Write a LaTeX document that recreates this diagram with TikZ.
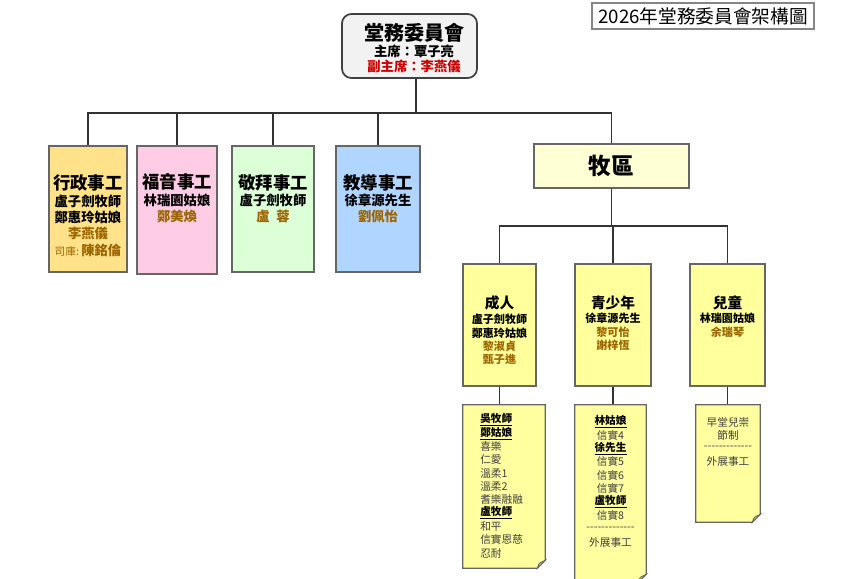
\documentclass[tikz,border=0pt]{standalone}
\usepackage{fontspec}
\setmainfont{Noto Sans CJK TC}
\usetikzlibrary{fit}
\definecolor{wirec}{HTML}{333333}
\definecolor{edgec}{HTML}{666666}
\definecolor{mainfill}{HTML}{F2F2F2}
\definecolor{xzfill}{HTML}{FFE28A}
\definecolor{fyfill}{HTML}{FFCCE6}
\definecolor{jbfill}{HTML}{DCFFD8}
\definecolor{jdfill}{HTML}{B0D6FF}
\definecolor{mqfill}{HTML}{FFFFD5}
\definecolor{grpfill}{HTML}{FFFF9C}
\definecolor{notefill}{HTML}{FFFFA0}
\definecolor{foldc}{HTML}{D8D27A}
\definecolor{brownc}{HTML}{9C6500}
\definecolor{redc}{HTML}{CC0000}
\definecolor{notetxt}{HTML}{404040}
\newcommand\myfs[1]{\fontsize{#1}{#1}\selectfont}
\newcommand\dashrow{-{}-{}-{}-{}-{}-{}-{}-{}-{}-{}-{}-{}-}
\tikzset{
  wire/.style={draw=wirec, line width=0.8pt},
  panel/.style={draw=edgec, line width=0.9pt, inner sep=0pt},
  frame/.style={inner sep=0pt},
  txt/.style={inner sep=0pt, text=black},
  hd/.style={txt, font=\myfs{13}\bfseries},
  sub/.style={txt, font=\myfs{10}\bfseries},
  subb/.style={txt, font=\myfs{10}\bfseries, text=brownc},
  ghd/.style={txt, font=\myfs{11}\bfseries},
  gsub/.style={txt, font=\myfs{8.3}\bfseries},
  gsubb/.style={txt, font=\myfs{8.3}\bfseries, text=brownc},
  nt/.style={txt, font=\myfs{8}, text=notetxt},
  nth/.style={txt, font=\myfs{8}\bfseries, text=black},
}
\newcommand\notepaper[1]{%
  \draw[draw=edgec, line width=0.8pt, fill=notefill]
    (#1.north west) -- (#1.north east) -- ([yshift=6pt]#1.south east)
    -- ([xshift=-6pt]#1.south east) -- (#1.south west) -- cycle;
  \draw[draw=edgec, line width=0.6pt, fill=foldc]
    ([yshift=6pt]#1.south east) -- ([xshift=-6pt]#1.south east)
    .. controls ([xshift=-5pt,yshift=3pt]#1.south east) .. ([xshift=-4pt,yshift=4pt]#1.south east) -- cycle;
}
\begin{document}
\begin{tikzpicture}[x=0.75pt,y=-0.75pt]
\clip (0,0) rectangle (858,579);
\fill[white] (0,0) rectangle (858,579);

% top-right title
\node[panel, draw=edgec!80, fit={(592,3) (814,29)}] (ttl) {};
\node[txt, font=\myfs{14}] (ttltxt) at (703,16) {2026年堂務委員會架構圖};

% main committee
\node[panel, draw=black!75, line width=1.3pt, fill=mainfill, rounded corners=7pt, fit={(342,14) (477,78)}] (main) {};
\node[txt, font=\myfs{15}\bfseries] (mainA) at (414,33) {堂務委員會};
\node[txt, font=\myfs{10}\bfseries] (mainB) at (414,51) {主席：覃子亮};
\node[txt, font=\myfs{10}\bfseries, text=redc] (mainC) at (414,66) {副主席：李燕儀};

% level 1 boxes
\node[panel, fill=xzfill, fit={(49,146) (127,272)}] (xz) {};
\node[panel, fill=fyfill, fit={(137,146) (217,274)}] (fy) {};
\node[panel, fill=jbfill, fit={(232,146) (314,272)}] (jb) {};
\node[panel, fill=jdfill, fit={(336,146) (420,272)}] (jd) {};
\node[panel, fill=mqfill, fit={(534,144) (689,188)}] (mq) {};

\coordinate (bar1) at (416,113);
\draw[wire] (main.south -| bar1) -- (bar1);
\draw[wire] (xz.north) -- (xz.north |- bar1) -- (mq.north |- bar1) -- (mq.north);
\draw[wire] (fy.north) -- (fy.north |- bar1);
\draw[wire] (jb.north) -- (jb.north |- bar1);
\draw[wire] (jd.north) -- (jd.north |- bar1);

% 行政事工
\node[hd] (xz1) at (88,183) {行政事工};
\node[sub] (xz2) at (88,201) {盧子劍牧師};
\node[sub] (xz3) at (88,217) {鄭惠玲姑娘};
\node[subb] (xz4) at (88,233) {李燕儀};
\node[txt, text=brownc] (xz5) at (88,250) {{\myfs{8}司庫:}\,{\myfs{10}\bfseries 陳銘倫}};

% 福音事工
\node[hd] (fy1) at (177,182) {福音事工};
\node[sub] (fy2) at (177,200) {林瑞園姑娘};
\node[subb] (fy3) at (177,216) {鄭美煥};

% 敬拜事工
\node[hd] (jb1) at (273,183) {敬拜事工};
\node[sub] (jb2) at (273,200) {盧子劍牧師};
\node[subb] (jb3) at (273,216) {盧\enspace 蓉};

% 教導事工
\node[hd] (jd1) at (378,183) {教導事工};
\node[sub] (jd2) at (378,200) {徐章源先生};
\node[subb] (jd3) at (378,216) {劉佩怡};

% 牧區
\node[txt, font=\myfs{17}\bfseries] (mq1) at (611.5,166) {牧區};

% level 2 groups
\node[panel, fill=grpfill, fit={(463,264) (536,386)}] (cr) {};
\node[panel, fill=grpfill, fit={(575,264) (651,386)}] (qs) {};
\node[panel, fill=grpfill, fit={(690,264) (765,386)}] (et) {};

\coordinate (bar2) at (612,226);
\draw[wire] (mq.south) -- (mq.south |- bar2);
\draw[wire] (cr.north) -- (cr.north |- bar2) -- (et.north |- bar2) -- (et.north);
\draw[wire] (qs.north) -- (qs.north |- bar2);

\node[ghd] (cr1) at (499.5,303) {成人};
\node[gsub] (cr2) at (499.5,319) {盧子劍牧師};
\node[gsub] (cr3) at (499.5,333) {鄭惠玲姑娘};
\node[gsubb] (cr4) at (499.5,346) {黎淑貞};
\node[gsubb] (cr5) at (499.5,359) {甄子進};

\node[ghd] (qs1) at (613,303) {青少年};
\node[gsub] (qs2) at (613,318) {徐章源先生};
\node[gsubb] (qs3) at (613,332) {黎可怡};
\node[gsubb] (qs4) at (613,345) {謝梓恆};

\node[ghd] (et1) at (727.5,303) {兒童};
\node[gsub] (et2) at (727.5,318) {林瑞園姑娘};
\node[gsubb] (et3) at (727.5,332) {余瑞琴};

% notes
\node[frame, fit={(463,405) (545,568)}] (crn) {};
\node[frame, fit={(575,405) (646,582)}] (qsn) {};
\node[frame, fit={(696,405) (760,522)}] (etn) {};
\draw[wire] (cr.south) -- (crn.north -| cr.south);
\draw[wire] (qs.south) -- (qsn.north -| qs.south);
\draw[wire] (et.south) -- (etn.north -| et.south);
\notepaper{crn}
\notepaper{qsn}
\notepaper{etn}

\node[nth, anchor=west] (c1) at (480,420) {\underline{吳牧師}};
\node[nth, anchor=west] (c2) at (480,433.3) {\underline{鄭姑娘}};
\node[nt, anchor=west] (c3) at (480,446.6) {喜樂};
\node[nt, anchor=west] (c4) at (480,459.9) {仁愛};
\node[nt, anchor=west] (c5) at (480,473.2) {溫柔1};
\node[nt, anchor=west] (c6) at (480,486.5) {溫柔2};
\node[nt, anchor=west] (c7) at (480,499.8) {耆樂融融};
\node[nth, anchor=west] (c8) at (480,513.1) {\underline{盧牧師}};
\node[nt, anchor=west] (c9) at (480,526.4) {和平};
\node[nt, anchor=west] (c10) at (480,539.7) {信實恩慈};
\node[nt, anchor=west] (c11) at (480,553) {忍耐};

\node[nth] (q1) at (610.5,422) {\underline{林姑娘}};
\node[nt] (q2) at (610.5,435.3) {信實4};
\node[nth] (q3) at (610.5,448.6) {\underline{徐先生}};
\node[nt] (q4) at (610.5,461.9) {信實5};
\node[nt] (q5) at (610.5,475.2) {信實6};
\node[nt] (q6) at (610.5,488.5) {信實7};
\node[nth] (q7) at (610.5,501.8) {\underline{盧牧師}};
\node[nt] (q8) at (610.5,515.1) {信實8};
\node[nt] (q9) at (610.5,528.4) {\dashrow};
\node[nt] (q10) at (610.5,542) {外展事工};

\node[nt] (e1) at (728,422) {早堂兒崇};
\node[nt] (e2) at (728,435.3) {節制};
\node[nt] (e3) at (728,447.6) {\dashrow};
\node[nt] (e4) at (728,461) {外展事工};
\end{tikzpicture}
\end{document}
